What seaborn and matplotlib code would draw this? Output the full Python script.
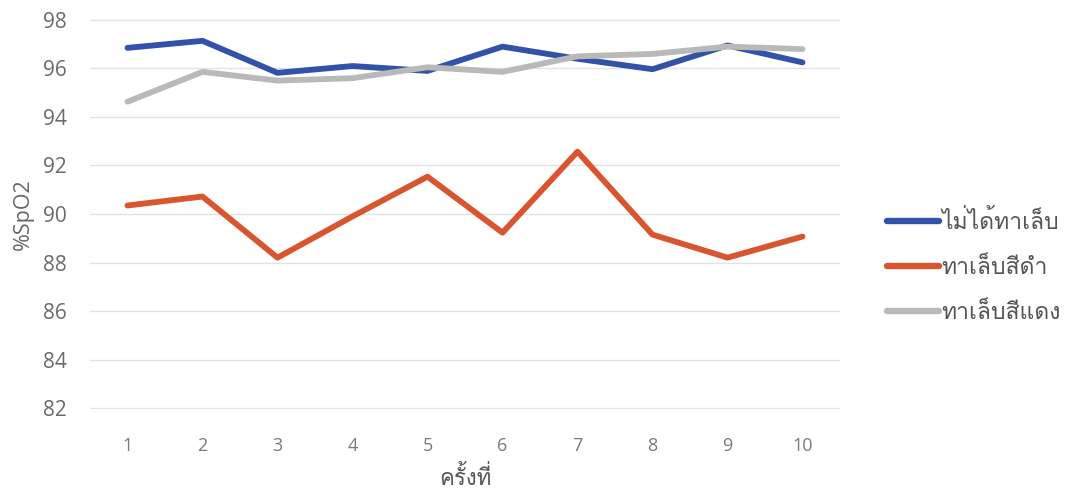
import matplotlib
matplotlib.use("Agg")
import matplotlib.pyplot as plt
from matplotlib import font_manager
from matplotlib.ft2font import FT2Font
from matplotlib.lines import Line2D
import seaborn as sns
import pandas as pd

# ---- data ----
trials = [1, 2, 3, 4, 5, 6, 7, 8, 9, 10]
no_polish = [96.85, 97.14, 95.82, 96.1, 95.9, 96.9, 96.4, 95.97, 96.95, 96.25]
black_polish = [90.35, 90.72, 88.2, 89.9, 91.54, 89.23, 92.57, 89.15, 88.2, 89.07]
red_polish = [94.63, 95.86, 95.5, 95.6, 96.05, 95.86, 96.5, 96.6, 96.9, 96.8]
series_names = ["ไม่ได้ทาเล็บ", "ทาเล็บสีดำ", "ทาเล็บสีแดง"]
y_ticks = [82, 84, 86, 88, 90, 92, 94, 96, 98]
x_label = "ครั้งที่"
y_label = "%SpO2"

# ---- find a font with Thai glyphs ----
thai_family = None
for fe in font_manager.fontManager.ttflist:
    try:
        f = FT2Font(fe.fname)
        cmap = f.get_charmap()
        if 0x0E17 in cmap and 0x0E49 in cmap:
            thai_family = fe.name
            break
    except Exception:
        pass
families = ([thai_family] if thai_family else []) + ["Open Sans", "DejaVu Sans"]

sns.set_theme(style="white")
plt.rcParams["font.family"] = ["Open Sans", "DejaVu Sans"]

df = pd.DataFrame({
    "trial": trials * 3,
    "value": no_polish + black_polish + red_polish,
    "series": [series_names[0]] * 10 + [series_names[1]] * 10 + [series_names[2]] * 10,
})

colors = {series_names[0]: "#3152A8", series_names[1]: "#D8552E", series_names[2]: "#B9B9B9"}

fig = plt.figure(figsize=(10.7, 4.94), dpi=100)
ax = fig.add_axes([90 / 1070, 1 - 409 / 494, 750 / 1070, 390 / 494])

sns.lineplot(data=df, x="trial", y="value", hue="series", palette=colors,
             hue_order=series_names, linewidth=4.2, ax=ax, legend=False)

ax.set_xlim(0.5, 10.5)
ax.set_ylim(81.96, 98.04)
ax.set_yticks(y_ticks)
ax.set_xticks(trials)
ax.set_xticklabels([str(t) for t in trials])
ax.yaxis.grid(True, color="#E3E3E3", linewidth=1.0)
ax.set_axisbelow(True)
for s in ax.spines.values():
    s.set_visible(False)
ax.tick_params(axis="y", length=0, pad=17, labelsize=15, labelcolor="#6A6A6A")
ax.tick_params(axis="x", length=0, pad=20, labelsize=13, labelcolor="#7A7A7A")

ax.set_xlabel(x_label, family=families, fontsize=16, color="#555555", labelpad=8)
ax.set_ylabel(y_label, fontsize=15.5, color="#666666", labelpad=6)

handles = [Line2D([0], [0], color=colors[n], linewidth=4.6, solid_capstyle="round") for n in series_names]
leg = fig.legend(handles, series_names, loc="center left", bbox_to_anchor=(866 / 1070, 1 - 267 / 494),
                 frameon=False, handlelength=2.3, handletextpad=0.1, labelspacing=1.0,
                 prop={"family": families, "size": 16.5})
for t in leg.get_texts():
    t.set_color("#555555")

fig.savefig("out.png", dpi=100, facecolor="white")
